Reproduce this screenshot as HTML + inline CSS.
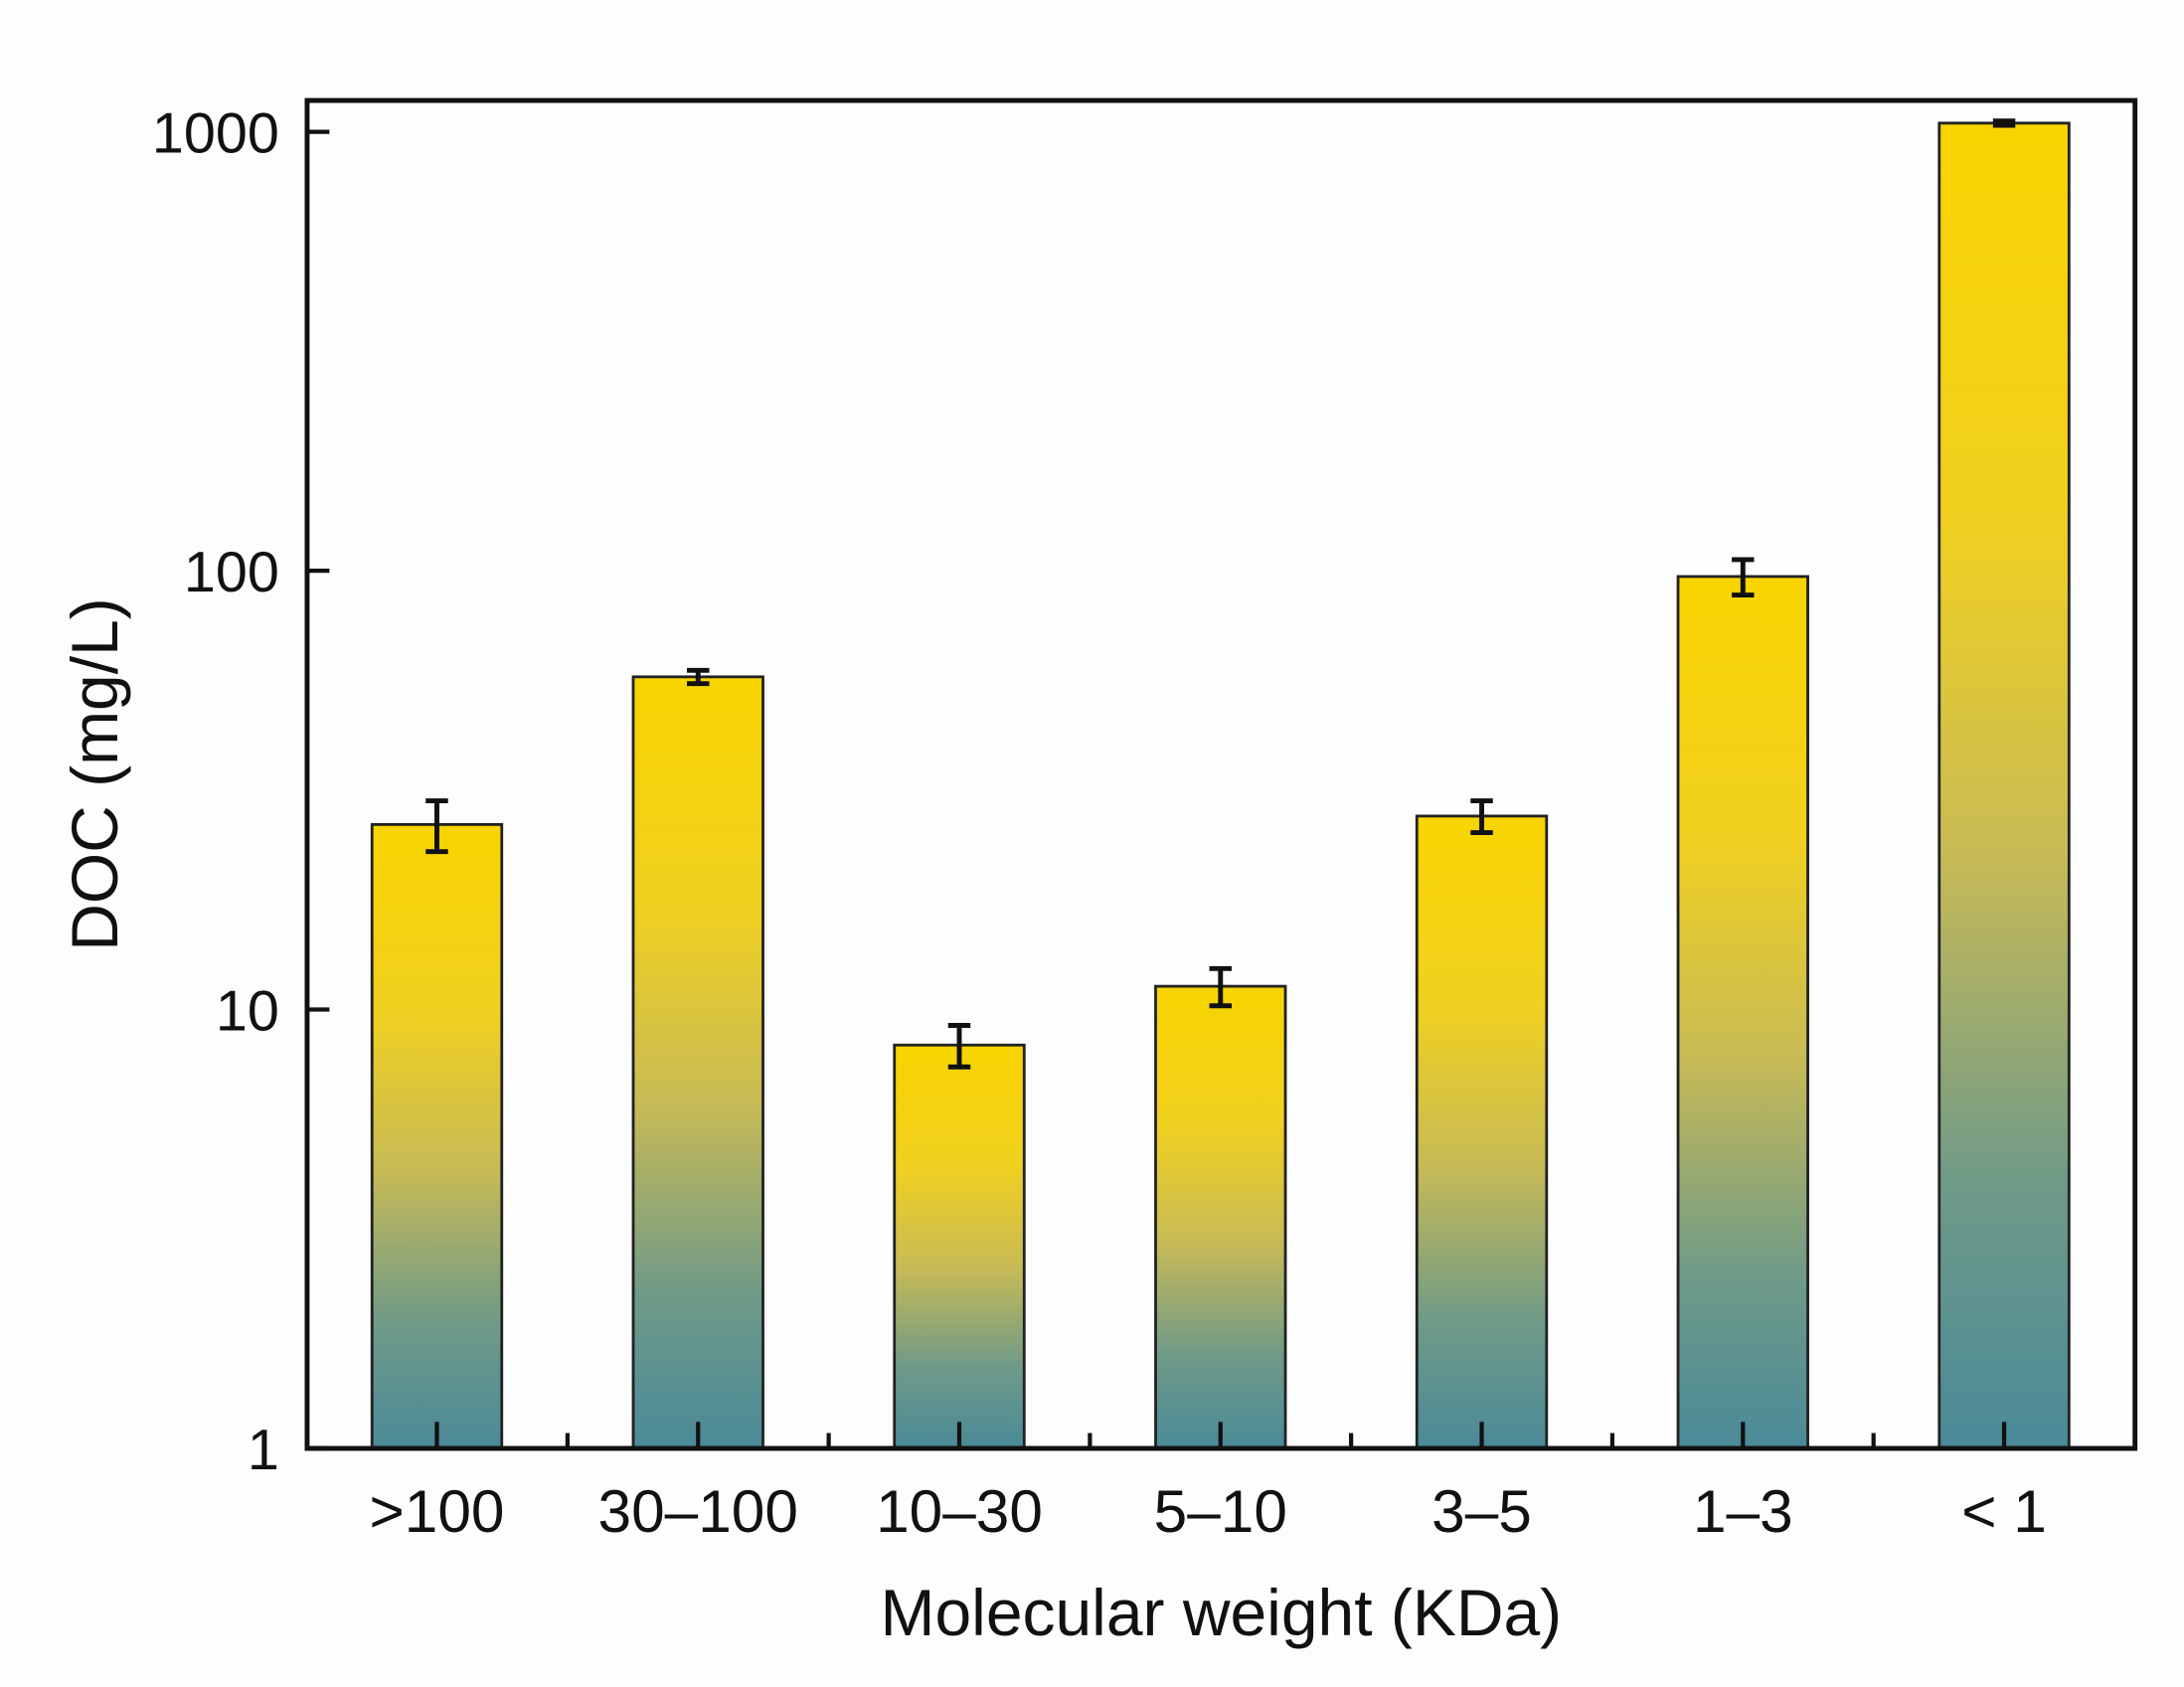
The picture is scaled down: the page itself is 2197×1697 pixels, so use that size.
<!DOCTYPE html>
<html><head><meta charset="utf-8"><style>
html,body{margin:0;padding:0;background:#fdfdfd;}
svg{display:block;}
text{font-family:"Liberation Sans",Arial,sans-serif;fill:#111;}
</style></head><body>
<svg id="chart" width="2197" height="1697" viewBox="0 0 1565 1209" xmlns="http://www.w3.org/2000/svg">
<defs>
<linearGradient id="barGrad" x1="0" y1="0" x2="0" y2="1">
<stop offset="0" stop-color="#f8d400"/>
<stop offset="0.3" stop-color="#f0d020"/>
<stop offset="0.55" stop-color="#c8bb55"/>
<stop offset="0.8" stop-color="#6f9a88"/>
<stop offset="1" stop-color="#4a8a98"/>
</linearGradient>
</defs>
<rect x="0" y="0" width="1565" height="1209" fill="#fdfdfd"/>
<g id="plot"></g>
<rect x="220" y="72" width="1310" height="966" fill="none" stroke="#111" stroke-width="3.5"/>
<text x="875" y="1172" font-size="47" text-anchor="middle">Molecular weight (KDa)</text>
<text x="0" y="0" font-size="47" text-anchor="middle" transform="translate(84,555) rotate(-90)">DOC (mg/L)</text>
</svg>
<script>
const categories = [">100", "30\u2013100", "10\u201330", "5\u201310", "3\u20135", "1\u20133", "< 1"];
const values = [26.4, 57.3, 8.3, 11.3, 27.6, 97, 1047];
const errors = [3.5, 2, 0.9, 1.1, 2.3, 9, 12];
const yTicks = [1, 10, 100, 1000];
const yTickLabels = ["1", "10", "100", "1000"];

const NS = "http://www.w3.org/2000/svg";
const g = document.getElementById("plot");
const X0 = 220, X1 = 1530, Y0 = 1038, DEC = 314.5;
const step = 187.2;
const barW = 93;
function xPos(i){ return 313 + step * i; }
function yPos(v){ return Y0 - Math.log10(v) * DEC; }
function mk(tag, attrs){ const e = document.createElementNS(NS, tag); for (const k in attrs) e.setAttribute(k, attrs[k]); g.appendChild(e); return e; }

categories.forEach((c, i) => {
  const cx = xPos(i), top = yPos(values[i]);
  const r = mk("rect", {x: cx - barW/2, y: top, width: barW, height: Y0 - top, fill: "url(#barGrad)", stroke: "#222", "stroke-width": 2});
  
  
  const yh = yPos(values[i] + errors[i]), yl = yPos(Math.max(values[i] - errors[i], 0.001));
  const eb = mk("path", {d: `M${cx},${yh}V${yl}M${cx-8},${yh}H${cx+8}M${cx-8},${yl}H${cx+8}`, stroke: "#111", "stroke-width": 3.5, fill: "none"});
  
  
  const t = mk("line", {x1: cx, x2: cx, y1: Y0, y2: Y0 - 19, stroke: "#111", "stroke-width": 3});
  
  
  if (i < categories.length - 1) {
    const m = mk("line", {x1: cx + step/2, x2: cx + step/2, y1: Y0, y2: Y0 - 11, stroke: "#111", "stroke-width": 3});
    
    
  }
  const lb = mk("text", {x: cx, y: 1098, "font-size": 43, "text-anchor": "middle"});
  lb.textContent = c;
  
  
});

yTicks.forEach((v, i) => {
  const y = yPos(v);
  const t = mk("line", {x1: X0, x2: X0 + 16, y1: y, y2: y, stroke: "#111", "stroke-width": 3});
  
  
  const lb = mk("text", {x: 200, y: y + 15, "font-size": 41, "text-anchor": "end"});
  lb.textContent = yTickLabels[i];
  
  
});
</script>
</body></html>
